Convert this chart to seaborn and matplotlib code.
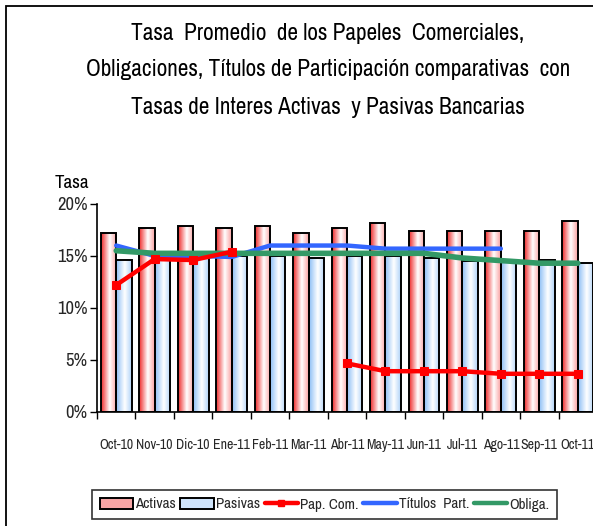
import numpy as np
import pandas as pd
import matplotlib
matplotlib.use("Agg")
import matplotlib.pyplot as plt
import seaborn as sns
from matplotlib import font_manager
from matplotlib.font_manager import FontProperties
from matplotlib.ticker import PercentFormatter, FixedLocator
from matplotlib.patches import Patch, Rectangle
from matplotlib.lines import Line2D

months = ["Oct-10", "Nov-10", "Dic-10", "Ene-11", "Feb-11", "Mar-11", "Abr-11",
          "May-11", "Jun-11", "Jul-11", "Ago-11", "Sep-11", "Oct-11"]
activas = [17.2, 17.65, 17.85, 17.65, 17.85, 17.2, 17.65, 18.15, 17.4, 17.4, 17.4, 17.4, 18.35]
pasivas = [14.6, 14.9, 14.9, 14.95, 14.95, 14.8, 14.95, 14.95, 14.8, 14.5, 14.4, 14.6, 14.3]
pap_com = [12.2, 14.7, 14.6, 15.4, np.nan, np.nan, 4.65, 3.9, 3.9, 3.9, 3.65, 3.65, 3.65]
titulos = [16.0, 15.0, 15.0, 14.9, 16.0, 16.0, 16.0, 15.7, 15.7, 15.7, 15.7, np.nan, np.nan]
obliga = [15.5, 15.25, 15.25, 15.25, 15.25, 15.25, 15.25, 15.25, 15.25, 14.8, 14.55, 14.3, 14.3]

title_lines = ["Tasa  Promedio  de los Papeles  Comerciales,",
               "Obligaciones, Títulos de Participación comparativas  con",
               "Tasas de Interes Activas  y Pasivas Bancarias"]
legend_labels = ["Activas", "Pasivas", "Pap. Com.", "Títulos  Part.", "Obliga."]

sns.set_theme(style="white")

# pick a narrow font if one is installed
cand = None
entries = font_manager.fontManager.ttflist
def ok(e):
    return e.style == "normal" and (e.weight in (400, "normal", "regular", "book"))
for e in entries:
    if "Narrow" in e.name and ok(e):
        cand = e.fname
        break
if cand is None:
    for e in entries:
        st = str(e.stretch)
        if ("ondensed" in st or "ondensed" in e.fname or "Condensed" in e.name) and ok(e) \
                and "xtra" not in e.fname and "Semi" not in e.fname and "ltra" not in e.fname:
            cand = e.fname
            break

def FP(size):
    if cand:
        return FontProperties(fname=cand, size=size)
    return FontProperties(family=["Liberation Sans", "DejaVu Sans"], size=size)

plt.rcParams["font.family"] = ["Liberation Sans", "DejaVu Sans"]

W, H = 593, 526
fig = plt.figure(figsize=(W / 100, H / 100), dpi=100)
renderer = fig.canvas.get_renderer()

def fit(text, target):
    t = fig.text(0, 0, text, fontproperties=FP(10))
    w = t.get_window_extent(renderer).width
    t.remove()
    return 10 * target / w

ax = fig.add_axes([97 / W, 1 - 411.7 / H, (597 - 97) / W, (411.7 - 204) / H])

df = pd.DataFrame({
    "mes": months * 2,
    "tasa": activas + pasivas,
    "serie": ["Activas"] * len(months) + ["Pasivas"] * len(months),
})
sns.barplot(data=df, x="mes", y="tasa", hue="serie", hue_order=["Activas", "Pasivas"],
            order=months, width=0.8, ax=ax, legend=False, saturation=1,
            palette=["#f08080", "#b0d4f8"], errorbar=None)

def grad(c_left, c_right):
    xs = np.linspace(0, 1, 64)
    cl = np.array(c_left) / 255.0
    cr = np.array(c_right) / 255.0
    wht = np.ones(3)
    out = []
    for t in xs:
        if t < 0.55:
            s = t / 0.55
            c = cl * (1 - s) + wht * s
        else:
            s = (t - 0.55) / 0.45
            c = wht * (1 - s) + cr * s
        out.append(c)
    return np.array(out)[None, :, :]

g_act = grad((238, 40, 40), (250, 160, 160))
g_pas = grad((140, 190, 245), (175, 210, 248))

bars = list(ax.patches)
n = len(months)
for i, p in enumerate(bars):
    x, y = p.get_x(), p.get_y()
    w, h = p.get_width(), p.get_height()
    g = g_act if i < n else g_pas
    im = ax.imshow(g, extent=[x, x + w, y, y + h], aspect="auto", zorder=1.5,
                   interpolation="bilinear")
    im.set_clip_path(p)
    p.set_facecolor("none")
    p.set_edgecolor("black")
    p.set_linewidth(1.4)
    p.set_zorder(2)

xi = np.arange(n)

def segments(vals):
    segs, cur = [], []
    for i, v in enumerate(vals):
        if np.isnan(v):
            if cur:
                segs.append(cur)
            cur = []
        else:
            cur.append(i)
    if cur:
        segs.append(cur)
    return segs

for seg in segments(titulos):
    sns.lineplot(x=xi[seg], y=np.array(titulos)[seg], ax=ax, color="#3366ff", lw=3.2,
                 zorder=3, estimator=None, sort=False)
for seg in segments(obliga):
    sns.lineplot(x=xi[seg], y=np.array(obliga)[seg], ax=ax, color="#339966", lw=4,
                 zorder=3.5, estimator=None, sort=False)
for seg in segments(pap_com):
    sns.lineplot(x=xi[seg], y=np.array(pap_com)[seg], ax=ax, color="#ff0000", lw=3.2,
                 zorder=4, estimator=None, sort=False, marker="s", markersize=6,
                 markerfacecolor="#ff0000", markeredgecolor="#ff0000")

ax.set_xlim(-0.5, n - 0.5)
ax.set_ylim(0, 20)
ax.yaxis.set_major_formatter(PercentFormatter(decimals=0))
ax.set_yticks([0, 5, 10, 15, 20])
ax.set_xticks(xi)
ax.set_xticklabels(months)
tick_fs = fit("Oct-10", 34)
ytick_fs = fit("20%", 27) * 1.12
for lab in ax.get_xticklabels():
    lab.set_fontproperties(FP(tick_fs))
for lab in ax.get_yticklabels():
    lab.set_fontproperties(FP(ytick_fs))
ax.xaxis.set_minor_locator(FixedLocator(np.arange(-0.5, n, 1.0)))
ax.tick_params(axis="x", which="major", length=0, pad=19)
ax.tick_params(axis="x", which="minor", length=5, width=1, color="black", direction="out", bottom=True)
ax.tick_params(axis="y", length=5, width=1, color="black", direction="out", left=True, pad=2)
ax.set_xlabel("")
ax.set_ylabel("")
for s in ["top", "right"]:
    ax.spines[s].set_visible(False)
for s in ["left", "bottom"]:
    ax.spines[s].set_color("black")
    ax.spines[s].set_linewidth(1.2)

title_fs = fit(title_lines[1], 456) * 1.07
for k, (line, yc) in enumerate(zip(title_lines, [33, 70, 107])):
    fig.text(328 / W, 1 - yc / H, line, ha="center", va="center",
             fontproperties=FP(title_fs), color="black")
fig.text(55 / W, 1 - 183 / H, "Tasa", ha="left", va="center",
         fontproperties=FP(fit("Tasa", 33) * 1.05), color="black")

fig.patches.append(Rectangle((6 / W, -0.1), 1.2, 1 - 6 / H + 0.1, transform=fig.transFigure,
                             fill=False, edgecolor="black", linewidth=1.3, zorder=0))

leg_fs = fit("Títulos  Part.", 68) * 1.04
handles = [
    Patch(facecolor="#f7a5a5", edgecolor="black", linewidth=1.4, label=legend_labels[0]),
    Patch(facecolor="#cfe4fb", edgecolor="black", linewidth=1.4, label=legend_labels[1]),
    Line2D([], [], color="#ff0000", lw=3.2, marker="s", markersize=6, label=legend_labels[2]),
    Line2D([], [], color="#3366ff", lw=3.2, label=legend_labels[3]),
    Line2D([], [], color="#339966", lw=3.2, label=legend_labels[4]),
]
leg = fig.legend(handles=handles, loc="center", bbox_to_anchor=(324.5 / W, 1 - 504.5 / H),
                 ncol=5, prop=FP(leg_fs), frameon=True, fancybox=False, edgecolor="black",
                 handlelength=2.2, handletextpad=0.15, columnspacing=0.3,
                 borderpad=0.5, markerscale=0.8)
leg.get_frame().set_linewidth(1.2)

fig.savefig("out.png", dpi=100)
